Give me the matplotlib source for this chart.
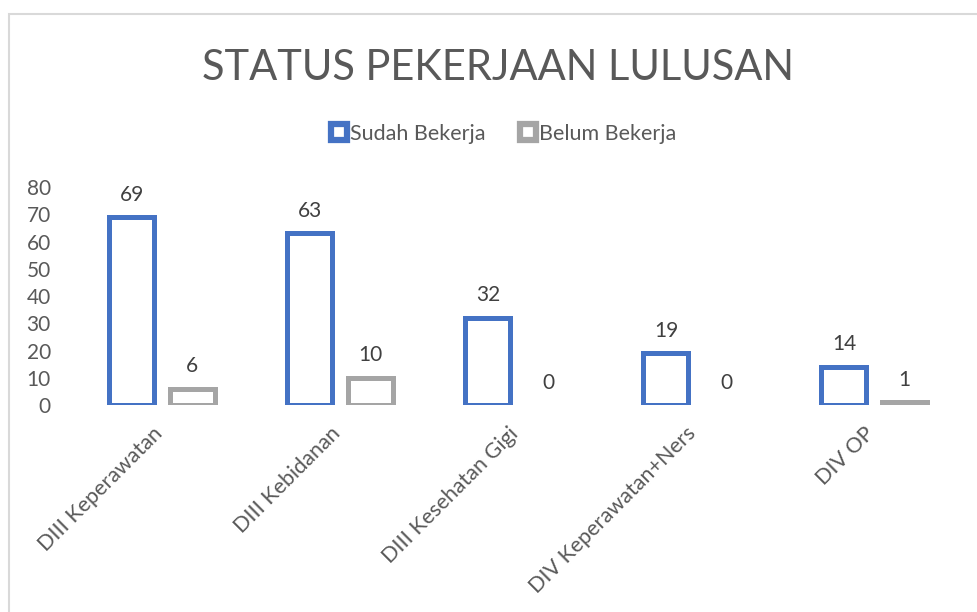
import matplotlib
matplotlib.use("Agg")
import matplotlib.pyplot as plt
from matplotlib.lines import Line2D
from matplotlib.patches import Rectangle
from matplotlib.transforms import ScaledTranslation
import numpy as np

# data
categories = ["DIII Keperawatan", "DIII Kebidanan", "DIII Kesehatan Gigi",
              "DIV Keperawatan+Ners", "DIV OP"]
sudah = [69, 63, 32, 19, 14]
belum = [6, 10, 0, 0, 1]
series_names = ["Sudah Bekerja", "Belum Bekerja"]

blue = "#4472C4"
grey = "#A5A5A5"
txt = "#595959"

plt.rcParams["font.family"] = ["Lato", "DejaVu Sans"]

fig = plt.figure(figsize=(9.77, 6.12), dpi=100)
ax = fig.add_axes([0.0747, 0.3382, 0.911, 0.3562])

# chart border (cut off at right and bottom like the screenshot)
fig.patches.append(Rectangle((8.5 / 977, -0.05), 1.1, (612 - 13.5) / 612 + 0.05,
                             transform=fig.transFigure, fill=False,
                             edgecolor="#D9D9D9", linewidth=1.5))

x = np.arange(len(categories))
w = 0.253
off = 0.169

for vals, pos, col in [(sudah, x - off, blue), (belum, x + off, grey)]:
    for xi, v in zip(pos, vals):
        if v > 0:
            ax.bar(xi, v, width=w, facecolor="white", edgecolor=col,
                   linewidth=3.6, joinstyle="miter")
        ax.annotate(str(v), (xi, v), xytext=(0, 9), textcoords="offset points",
                    ha="center", va="bottom", fontsize=15, color="#404040")

ax.set_xlim(-0.5, len(categories) - 0.5)
ax.set_ylim(0, 80)
ax.set_yticks(range(0, 81, 10))
ax.tick_params(axis="y", length=0, pad=16, labelsize=15, labelcolor=txt)
ax.set_xticks(x)
ax.set_xticklabels(categories, rotation=45, ha="right", va="top",
                   fontsize=15.5, color=txt)
ax.tick_params(axis="x", length=0, pad=13)
shift = ScaledTranslation(4 / 100, 0, fig.dpi_scale_trans)
for lab in ax.get_xticklabels():
    lab.set_transform(lab.get_transform() + shift)
for s in ax.spines.values():
    s.set_visible(False)

fig.text(0.510, 0.889, "STATUS PEKERJAAN LULUSAN", ha="center", va="center",
         fontsize=30, color=txt)

handles = [Line2D([], [], marker="s", linestyle="none", markersize=11.5,
                  markerfacecolor="white", markeredgecolor=blue, markeredgewidth=4.5),
           Line2D([], [], marker="s", linestyle="none", markersize=11.5,
                  markerfacecolor="white", markeredgecolor=grey, markeredgewidth=4.5)]
fig.legend(handles, series_names, loc="center", bbox_to_anchor=(0.515, 0.781),
           ncol=2, frameon=False, fontsize=15.5, labelcolor=txt,
           handlelength=0.8, handletextpad=0.1, columnspacing=1.6)

fig.savefig("out.png", dpi=100)
